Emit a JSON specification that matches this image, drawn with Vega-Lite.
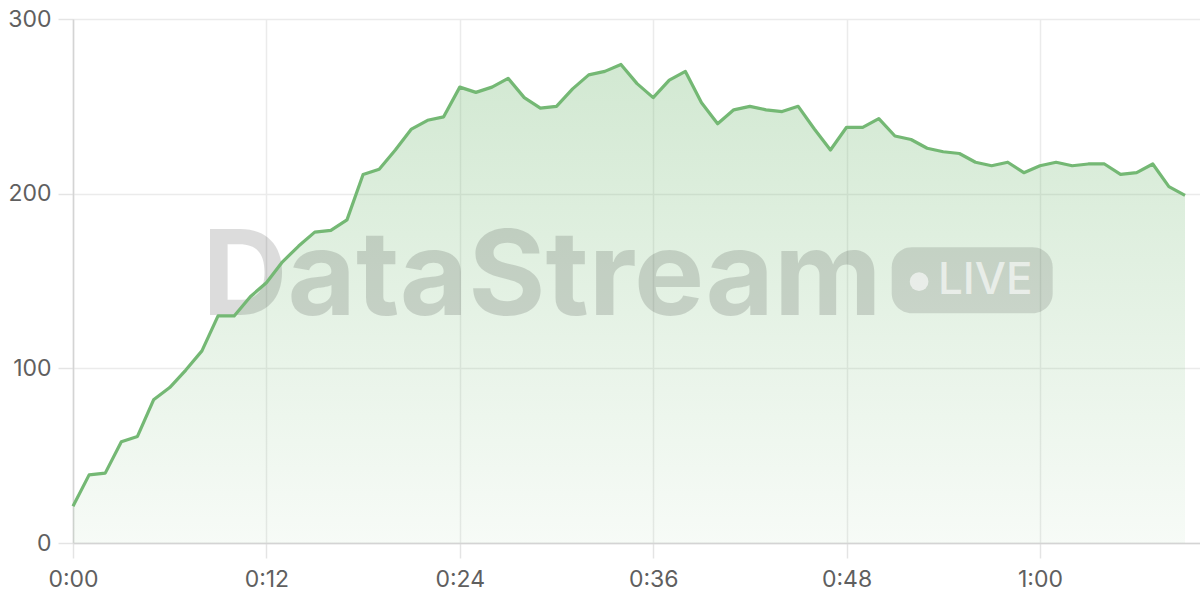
{
  "$schema": "https://vega.github.io/schema/vega-lite/v6.json",
  "width": 1127,
  "height": 524,
  "autosize": {"type": "none"},
  "padding": {"left": 73, "top": 19, "right": 0, "bottom": 57},
  "background": "white",
  "config": {
    "view": {"stroke": null},
    "font": "Inter",
    "axis": {
      "labelFont": "Inter",
      "labelFontSize": 23,
      "labelColor": "#5f5f5f",
      "labelFlush": false,
      "labelOverlap": false,
      "grid": true,
      "gridColor": "#ebebeb",
      "gridWidth": 1.5,
      "tickColor": "#e4e4e4",
      "tickWidth": 1.5,
      "tickSize": 15,
      "domainColor": "#d4d4d4",
      "domainWidth": 1.5
    }
  },
  "data": {
    "values": [
      {"t": 0, "v": 21}, {"t": 1, "v": 39}, {"t": 2, "v": 40}, {"t": 3, "v": 58}, {"t": 4, "v": 61},
      {"t": 5, "v": 82}, {"t": 6, "v": 89}, {"t": 7, "v": 99}, {"t": 8, "v": 110}, {"t": 9, "v": 130},
      {"t": 10, "v": 130}, {"t": 11, "v": 141}, {"t": 12, "v": 149}, {"t": 13, "v": 161}, {"t": 14, "v": 170},
      {"t": 15, "v": 178}, {"t": 16, "v": 179}, {"t": 17, "v": 185}, {"t": 18, "v": 211}, {"t": 19, "v": 214},
      {"t": 20, "v": 225}, {"t": 21, "v": 237}, {"t": 22, "v": 242}, {"t": 23, "v": 244}, {"t": 24, "v": 261},
      {"t": 25, "v": 258}, {"t": 26, "v": 261}, {"t": 27, "v": 266}, {"t": 28, "v": 255}, {"t": 29, "v": 249},
      {"t": 30, "v": 250}, {"t": 31, "v": 260}, {"t": 32, "v": 268}, {"t": 33, "v": 270}, {"t": 34, "v": 274},
      {"t": 35, "v": 263}, {"t": 36, "v": 255}, {"t": 37, "v": 265}, {"t": 38, "v": 270}, {"t": 39, "v": 252},
      {"t": 40, "v": 240}, {"t": 41, "v": 248}, {"t": 42, "v": 250}, {"t": 43, "v": 248}, {"t": 44, "v": 247},
      {"t": 45, "v": 250}, {"t": 46, "v": 237}, {"t": 47, "v": 225}, {"t": 48, "v": 238}, {"t": 49, "v": 238},
      {"t": 50, "v": 243}, {"t": 51, "v": 233}, {"t": 52, "v": 231}, {"t": 53, "v": 226}, {"t": 54, "v": 224},
      {"t": 55, "v": 223}, {"t": 56, "v": 218}, {"t": 57, "v": 216}, {"t": 58, "v": 218}, {"t": 59, "v": 212},
      {"t": 60, "v": 216}, {"t": 61, "v": 218}, {"t": 62, "v": 216}, {"t": 63, "v": 217}, {"t": 64, "v": 217},
      {"t": 65, "v": 211}, {"t": 66, "v": 212}, {"t": 67, "v": 217}, {"t": 68, "v": 204}, {"t": 69, "v": 199}
    ]
  },
  "layer": [
    {
      "mark": {
        "type": "area",
        "line": false,
        "color": {
          "gradient": "linear",
          "x1": 0, "y1": 0, "x2": 0, "y2": 1,
          "stops": [
            {"offset": 0, "color": "rgba(115,185,115,0.32)"},
            {"offset": 1, "color": "rgba(115,185,115,0.06)"}
          ]
        }
      },
      "encoding": {
        "x": {
          "field": "t", "type": "quantitative", "title": null,
          "scale": {"domain": [0, 69.93], "nice": false, "zero": false},
          "axis": {
            "values": [0, 12, 24, 36, 48, 60],
            "labelPadding": 10,
            "labelExpr": "floor(datum.value / 60) + ':' + ((datum.value % 60) < 10 ? '0' : '') + (datum.value % 60)"
          }
        },
        "y": {
          "field": "v", "type": "quantitative", "title": null,
          "scale": {"domain": [0, 300], "nice": false},
          "axis": {"values": [0, 100, 200, 300], "labelPadding": 7}
        }
      }
    },
    {
      "data": {"values": [{"label": "DataStream"}]},
      "mark": {"type": "text", "align": "center", "baseline": "alphabetic", "font": "Inter", "fontWeight": 700, "fontSize": 118, "color": "#000000", "opacity": 0.135},
      "encoding": {
        "x": {"datum": 29.1, "type": "quantitative", "title": null},
        "y": {"datum": 130.5, "type": "quantitative", "title": null},
        "text": {"field": "label"}
      }
    },
    {
      "data": {"values": [{"label": "LIVE"}]},
      "mark": {"type": "rect", "cornerRadius": 20, "color": "#000000", "opacity": 0.12},
      "encoding": {
        "x": {"datum": 50.8, "type": "quantitative", "title": null},
        "x2": {"datum": 60.79},
        "y": {"datum": 169.3, "type": "quantitative", "title": null},
        "y2": {"datum": 131.5}
      }
    },
    {
      "data": {"values": [{"label": "LIVE"}]},
      "mark": {"type": "circle", "size": 350, "color": "#ffffff", "opacity": 0.6},
      "encoding": {
        "x": {"datum": 52.5, "type": "quantitative", "title": null},
        "y": {"datum": 149.6, "type": "quantitative", "title": null}
      }
    },
    {
      "data": {"values": [{"label": "LIVE"}]},
      "mark": {"type": "text", "align": "left", "baseline": "alphabetic", "font": "Inter", "fontWeight": 500, "fontSize": 44, "color": "#ffffff", "opacity": 0.6},
      "encoding": {
        "x": {"datum": 53.67, "type": "quantitative", "title": null},
        "y": {"datum": 142.6, "type": "quantitative", "title": null},
        "text": {"field": "label"}
      }
    },
    {
      "mark": {"type": "line", "color": "#74b874", "strokeWidth": 3.2, "strokeJoin": "round"},
      "encoding": {
        "x": {"field": "t", "type": "quantitative", "title": null},
        "y": {"field": "v", "type": "quantitative", "title": null}
      }
    }
  ]
}
